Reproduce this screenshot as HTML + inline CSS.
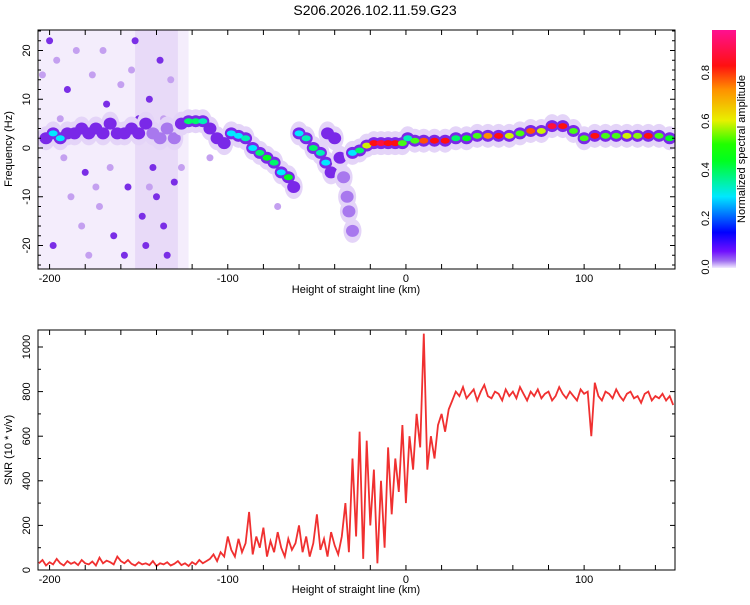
<!DOCTYPE html>
<html><head><meta charset="utf-8"><style>
html,body{margin:0;padding:0;background:#fff;}
svg text{font-family:"Liberation Sans",sans-serif;fill:#000;}
</style></head><body>
<svg id="s" width="750" height="600" viewBox="0 0 750 600" xmlns="http://www.w3.org/2000/svg">
<defs>
<linearGradient id="cg" x1="0" y1="1" x2="0" y2="0">
<stop offset="0" stop-color="#f2eaff"/><stop offset="0.03" stop-color="#a070f0"/><stop offset="0.07" stop-color="#7010ff"/>
<stop offset="0.15" stop-color="#0000ff"/><stop offset="0.3" stop-color="#00e8ff"/><stop offset="0.45" stop-color="#00ff20"/>
<stop offset="0.52" stop-color="#20ff00"/><stop offset="0.62" stop-color="#e8f000"/><stop offset="0.75" stop-color="#ff9000"/>
<stop offset="0.85" stop-color="#ff1010"/><stop offset="1" stop-color="#ff1090"/>
</linearGradient>
<clipPath id="c1"><rect x="38" y="30" width="637" height="239"/></clipPath>
<clipPath id="c2"><rect x="38" y="330" width="637" height="240"/></clipPath>
</defs>
<text x="375" y="15" font-size="14" text-anchor="middle">S206.2026.102.11.59.G23</text>
<g id="spec" clip-path="url(#c1)"></g>
<g id="snr" clip-path="url(#c2)"></g>
<g id="axes"></g>
<rect x="712" y="30" width="24" height="238" fill="url(#cg)"/>
<text transform="translate(745,149) rotate(-90)" font-size="11" text-anchor="middle">Normalized spectral amplitude</text>
<text transform="translate(12,149) rotate(-90)" font-size="11" text-anchor="middle">Frequency (Hz)</text>
<text x="356" y="293" font-size="11" text-anchor="middle">Height of straight line (km)</text>
<text transform="translate(12,450) rotate(-90)" font-size="11" text-anchor="middle">SNR (10 * v/v)</text>
<text x="356" y="593" font-size="11" text-anchor="middle">Height of straight line (km)</text>
</svg>
<script>
const xTicksLabels=[-200,-100,0,100];
const freqTickLabels=[20,10,0,-10,-20];
const snrTickLabels=[0,200,400,600,800,1000];
const cbTickLabels=["0.0","0.2","0.4","0.6","0.8"];
// ridge points [km, Hz, amplitude]
const ridgeLeft=[[-202,2,0.2],[-198,3,0.3],[-194,2,0.3],[-190,3,0.15],[-186,3,0.25],[-182,4,0.15],[-178,3,0.12],[-174,4,0.15],[-170,3,0.12],[-166,5,0.15],[-162,3,0.12],[-158,3,0.2],[-154,4,0.2],[-150,3,0.15],[-146,5,0.12],[-142,3,0.1],[-138,2,0.1],[-134,4,0.08],[-130,2,0.08]];
const ridgeMain=[[-126,5,0.2],[-122,5.5,0.4],[-118,5.5,0.4],[-114,5.5,0.35],[-110,4,0.2],[-106,2,0.2],[-102,1,0.2],[-98,3,0.3],[-94,2.5,0.3],[-90,2,0.35],[-86,0,0.3],[-82,-1,0.4],[-78,-2,0.45],[-74,-3,0.4],[-70,-5,0.3],[-66,-6,0.45],[-63,-8,0.2]];
const ridgeSecond=[[-60,3,0.3],[-56,2,0.35],[-52,0,0.4],[-48,-1,0.35],[-45,-3,0.3],[-42,-5,0.15]];
const ridgeThird=[[-44,3,0.2],[-40,2,0.2],[-37,-2,0.12],[-35,-6,0.1],[-33,-10,0.1],[-32,-13,0.1],[-30,-17,0.08]];
const ridgeRight=[[-30,-1,0.3],[-26,-0.5,0.4],[-22,0.5,0.6],[-18,1,0.85],[-14,1,0.9],[-10,1,0.85],[-6,1,0.85],[-2,1,0.5],[1,2,0.35],[5,1.5,0.5],[10,1.5,0.8],[16,1.5,0.85],[22,1.5,0.85],[28,2,0.4],[34,2,0.45],[40,2.5,0.5],[46,2.5,0.75],[52,2.5,0.85],[58,2.5,0.6],[64,3,0.5],[70,3.5,0.8],[76,3.5,0.6],[82,4.5,0.9],[88,4.5,0.85],[94,3.5,0.5],[100,2,0.5],[106,2.5,0.85],[112,2.5,0.5],[118,2.5,0.5],[124,2.5,0.6],[130,2.5,0.55],[136,2.5,0.85],[142,2.5,0.5],[148,2,0.45]];
const noiseBlobs=[[-200,22,0.1],[-196,18,0.06],[-190,12,0.08],[-185,20,0.06],[-180,-5,0.1],[-176,15,0.06],[-172,-12,0.06],[-168,9,0.08],[-164,-18,0.1],[-160,13,0.06],[-156,-8,0.1],[-152,22,0.1],[-148,-14,0.12],[-146,-20,0.12],[-144,10,0.1],[-142,-4,0.1],[-140,-10,0.12],[-138,18,0.1],[-136,-16,0.12],[-134,-22,0.1],[-132,14,0.06],[-130,-7,0.08],[-198,-20,0.08],[-188,-10,0.06],[-178,-22,0.06],[-194,6,0.06],[-170,20,0.06],[-158,-22,0.1],[-150,6,0.1],[-126,-4,0.06],[-110,-2,0.06],[-72,-12,0.05],[-204,15,0.06],[-182,-16,0.06],[-166,-4,0.06],[-154,16,0.06],[-144,-8,0.06],[-136,6,0.06],[-192,-2,0.06],[-174,-8,0.06]];
const noiseRegions=[[-206,-122,0.16],[-152,-128,0.2]];
// SNR values every 2 km starting at -206
const snrStart=-206, snrStep=2;
const snrValues=[30,45,20,35,25,50,30,20,40,28,35,22,45,30,25,38,20,55,30,42,35,25,60,40,30,45,28,20,35,25,30,22,40,18,30,25,35,20,28,40,22,30,18,35,25,45,30,40,
50,70,40,80,60,150,
90,60,140,80,120,260,70,150,100,190,60,130,80,170,100,60,140,90,120,200,
80,150,60,120,250,90,140,60,170,110,70,150,
300,80,500,150,620,50,580,200,450,30,400,100,550,
250,500,350,650,300,600,450,700,550,1060,
450,600,500,650,700,620,720,
760,800,780,820,770,790,810,760,800,830,780,770,800,790,760,810,780,800,770,820,790,760,800,780,810,770,790,800,760,780,820,790,770,800,780,760,810,790,800,600,
840,780,760,800,790,770,810,780,760,790,800,770,780,750,790,800,760,780,770,790,760,780,740];

const NS='http://www.w3.org/2000/svg';
const X0=38,X1=675,KM0=-206.5,KM1=151;
const xs=k=>X0+(k-KM0)/(KM1-KM0)*(X1-X0);
const fy=f=>148-f*4.875;
const sy=v=>570-v*0.223;
function mk(t,a,p){const e=document.createElementNS(NS,t);for(const k in a)e.setAttribute(k,a[k]);(p||document.getElementById('s')).appendChild(e);return e;}
const stops=[[0,[242,234,255]],[0.03,[160,112,240]],[0.07,[112,16,255]],[0.15,[0,0,255]],[0.3,[0,232,255]],[0.45,[0,255,32]],[0.62,[232,240,0]],[0.75,[255,144,0]],[0.85,[255,16,16]],[1,[255,16,144]]];
function cmap(v){for(let i=1;i<stops.length;i++){if(v<=stops[i][0]){const a=stops[i-1],b=stops[i],t=(v-a[0])/(b[0]-a[0]);return 'rgb('+a[1].map((c,j)=>Math.round(c+(b[1][j]-c)*t)).join(',')+')';}}return 'rgb(255,16,144)';}

const spec=document.getElementById('spec');
noiseRegions.forEach(r=>{const e=mk('rect',{x:xs(r[0]),y:30,width:xs(r[1])-xs(r[0]),height:239,fill:'#b890ec',opacity:r[2]},spec);

});
noiseBlobs.forEach(b=>{const e=mk('ellipse',{cx:xs(b[0]),cy:fy(b[1]),rx:3.5,ry:3.5,fill:b[2]>=0.08?'#7a2ee6':'#c4a0f0'},spec);

});
[ridgeLeft,ridgeMain,ridgeSecond,ridgeThird,ridgeRight].forEach(rg=>{
 rg.forEach(p=>{const e=mk('ellipse',{cx:xs(p[0]),cy:fy(p[1]),rx:9,ry:12,fill:'#e4d4f8'},spec);
 
 });
 rg.forEach(p=>{const e=mk('ellipse',{cx:xs(p[0]),cy:fy(p[1]),rx:6.5,ry:6,fill:p[2]>0.1?'#7a28e8':'#a878ee'},spec);
 
 });
 rg.forEach(p=>{if(p[2]>0.25){const e=mk('ellipse',{cx:xs(p[0]),cy:fy(p[1]),rx:4.5,ry:3,fill:cmap(p[2])},spec);
 
 }});
});

const snr=document.getElementById('snr');
const pts=snrValues.map((v,i)=>xs(snrStart+i*snrStep).toFixed(1)+','+sy(v).toFixed(1)).join(' ');
const ln=mk('polyline',{points:pts,fill:'none',stroke:'#f03030','stroke-width':1.8},snr);



const ax=document.getElementById('axes');
function frame(y0,y1,name){const r=mk('rect',{x:X0,y:y0,width:X1-X0,height:y1-y0,fill:'none',stroke:'#000','stroke-width':1},ax);


 for(let k=-200;k<=150;k+=20){const x=xs(k);mk('line',{x1:x,x2:x,y1:y1,y2:y1-5,stroke:'#000'},ax);mk('line',{x1:x,x2:x,y1:y0,y2:y0+5,stroke:'#000'},ax);}
 xTicksLabels.forEach(k=>{const t=mk('text',{x:xs(k),y:y1+13,'font-size':11,'text-anchor':'middle'},ax);t.textContent=k;
 
 });}
frame(30,269,'top-plot-frame');frame(330,570,'bottom-plot-frame');
for(let f=-24;f<=24;f+=2){const y=fy(f),l=f%10===0?5:3;mk('line',{x1:X0,x2:X0+l,y1:y,y2:y,stroke:'#000'},ax);mk('line',{x1:X1,x2:X1-l,y1:y,y2:y,stroke:'#000'},ax);}
freqTickLabels.forEach(f=>{const t=mk('text',{transform:'translate(30,'+fy(f)+') rotate(-90)','font-size':11,'text-anchor':'middle'},ax);t.textContent=f;

});
for(let v=0;v<=1000;v+=100){const y=sy(v),l=v%200===0?5:3;mk('line',{x1:X0,x2:X0+l,y1:y,y2:y,stroke:'#000'},ax);mk('line',{x1:X1,x2:X1-l,y1:y,y2:y,stroke:'#000'},ax);}
snrTickLabels.forEach(v=>{const t=mk('text',{transform:'translate(30,'+sy(v)+') rotate(-90)','font-size':11,'text-anchor':'middle'},ax);t.textContent=v;

});
cbTickLabels.forEach(s=>{const y=267-parseFloat(s)*243;const t=mk('text',{transform:'translate(709,'+y+') rotate(-90)','font-size':11,'text-anchor':'middle'},ax);t.textContent=s;

});
</script>
</body></html>
